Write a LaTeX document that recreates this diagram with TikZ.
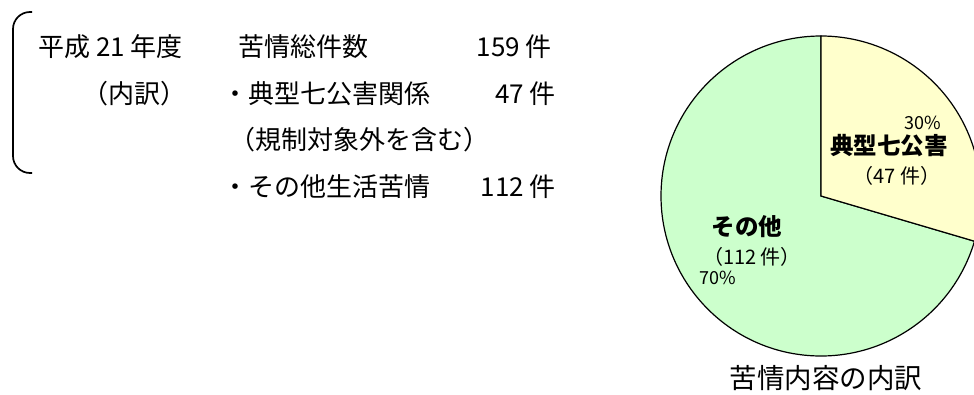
\documentclass[tikz,border=0pt]{standalone}
\usepackage{fontspec}
\setmainfont{Noto Sans CJK JP}
\usepackage{tikz}
\definecolor{pieGreen}{RGB}{204,255,204}
\definecolor{pieYellow}{RGB}{255,255,204}

\begin{document}
\begin{tikzpicture}[x=1pt,y=1pt,
		txt/.style={inner sep=0pt,font=\fontsize{26}{30}\selectfont},
		pielbl/.style={inner sep=0pt,font=\fontsize{20}{24}\selectfont},
		piepct/.style={inner sep=0pt,font=\fontsize{18}{22}\selectfont},
		piehead/.style={inner sep=0pt,font=\bfseries\fontsize{23.5}{28}\selectfont}]
		\useasboundingbox (0,0) rectangle (974,-394);
		\clip (0,0) rectangle (974,-394);
		\draw[line width=1.7pt,rounded corners=17pt] (32,-12) -- (13,-12) -- (13,-173) -- (32,-173);
		\node[txt,anchor=west] (year) at (38,-47) {平成 21 年度};
		\node[txt,anchor=east] (breakdown) at (187,-94) {（内訳）};
		\node[txt,anchor=west] (total) at (238,-47) {苦情総件数};
		\node[txt,anchor=east] (totalnum) at (552,-47) {159 件};
		\node[txt,anchor=west] (typical) at (222,-94) {・典型七公害関係};
		\node[txt,anchor=east] (typicalnum) at (556,-94) {47 件};
		\node[txt,anchor=west] (note) at (229,-140) {（規制対象外を含む）};
		\node[txt,anchor=west] (other) at (222,-187) {・その他生活苦情};
		\node[txt,anchor=east] (othernum) at (556,-187) {112 件};
		\coordinate (pc) at (821,-196);
		\pgfmathsetmacro\cutangle{90-47/159*360}
		\filldraw[fill=pieGreen,line width=1.2pt] (pc) -- ++(90:160) arc[start angle=90,end angle=\cutangle+360,radius=160pt] -- cycle;
		\filldraw[fill=pieYellow,line width=1.2pt] (pc) -- ++(90:160) arc[start angle=90,end angle=\cutangle,radius=160pt] -- cycle;
		\node[piepct] (pcttypical) at (923,-123) {30\%};
		\node[piehead] (headtypical) at (889,-146) {典型七公害};
		\node[pielbl] (cnttypical) at (897,-176) {（47 件）};
		\node[piehead] (headother) at (747,-227) {その他};
		\node[pielbl] (cntother) at (752,-257) {（112 件）};
		\node[piepct] (pctother) at (718,-278) {70\%};
		\node[txt,font=\fontsize{27.5}{32}\selectfont] (title) at (826,-378) {苦情内容の内訳};
\end{tikzpicture}
\end{document}
